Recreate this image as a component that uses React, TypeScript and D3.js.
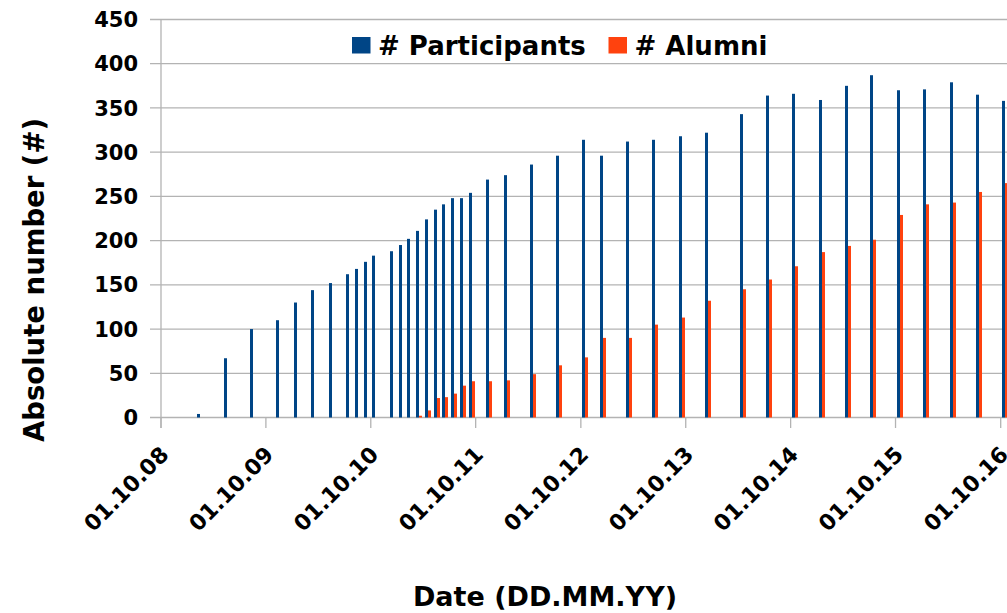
import React from 'react';
import * as d3 from 'd3';

const dates = [
  '2009-02-14', '2009-05-18', '2009-08-17', '2009-11-15', '2010-01-17', '2010-03-17',
  '2010-05-19', '2010-07-17', '2010-08-17', '2010-09-17', '2010-10-15', '2010-12-17',
  '2011-01-17', '2011-02-14', '2011-03-17', '2011-04-18', '2011-05-19', '2011-06-16',
  '2011-07-17', '2011-08-17', '2011-09-17', '2011-11-15', '2012-01-17', '2012-04-16',
  '2012-07-16', '2012-10-15', '2012-12-17', '2013-03-17', '2013-06-16', '2013-09-17',
  '2013-12-17', '2014-04-18', '2014-07-17', '2014-10-15', '2015-01-17', '2015-04-17',
  '2015-07-16', '2015-10-15', '2016-01-14', '2016-04-17', '2016-07-17', '2016-10-15',
];

const participants = [
  4, 67, 100, 110, 130, 144, 152, 162, 168, 176, 183, 188,
  195, 202, 211, 224, 235, 241, 248, 248, 254, 269, 274, 286,
  296, 314, 296, 312, 314, 318, 322, 343, 364, 366, 359, 375,
  387, 370, 371, 379, 365, 358,
];

const alumni = [
  0, 0, 0, 0, 0, 0, 0, 0, 0, 0, 0, 0,
  0, 0, 2, 8, 22, 23, 27, 36, 41, 41, 42, 49,
  59, 68, 90, 90, 105, 113, 132, 145, 156, 171, 187, 194,
  201, 229, 241, 243, 255, 265,
];

const yTicks = [0, 50, 100, 150, 200, 250, 300, 350, 400, 450];
const xTickDates = [
  '2008-10-01', '2009-10-01', '2010-10-01', '2011-10-01', '2012-10-01',
  '2013-10-01', '2014-10-01', '2015-10-01', '2016-10-01',
];
const seriesNames = ['# Participants', '# Alumni'];
const seriesColors = ['#004586', '#ff420e'];

export default function App() {
  const W = 1007;
  const H = 613;
  const parse = d3.utcParse('%Y-%m-%d');
  const fmt = d3.utcFormat('%d.%m.%y');
  const x = d3
    .scaleUtc()
    .domain([parse('2008-10-01') as Date, parse('2016-10-01') as Date])
    .range([161, 1000.7]);
  const y = d3.scaleLinear().domain([0, 450]).range([417.5, 19.5]);
  const font = "'DejaVu Sans', 'Liberation Sans', sans-serif";
  const barW = 3;
  const grid = '#b3b3b3';

  const rows = dates.map((d, i) => ({
    date: parse(d) as Date,
    p: participants[i],
    a: alumni[i],
  }));

  return (
    <svg
      width={W}
      height={H}
      viewBox={`0 0 ${W} ${H}`}
      style={{ position: 'absolute', left: 0, top: 0, background: '#fff' }}
      fontFamily={font}
    >
      <rect x={0} y={0} width={W} height={H} fill="#fff" />
      {/* horizontal gridlines + y ticks */}
      {yTicks.map((t) => (
        <line key={'g' + t} x1={150} x2={W + 5} y1={y(t)} y2={y(t)} stroke={grid} strokeWidth={1.3} />
      ))}
      {/* y axis line */}
      <line x1={161} x2={161} y1={y(450)} y2={428} stroke={grid} strokeWidth={1.3} />
      {/* x ticks */}
      {xTickDates.map((d) => {
        const xx = x(parse(d) as Date);
        return <line key={'xt' + d} x1={xx} x2={xx} y1={y(0)} y2={428} stroke={grid} strokeWidth={1.3} />;
      })}
      {/* bars */}
      {rows.map((r, i) => {
        const cx = Math.round(x(r.date));
        return (
          <g key={'b' + i}>
            <rect x={cx - barW} y={y(r.p)} width={barW} height={y(0) - y(r.p)} fill={seriesColors[0]} />
            {r.a > 0 && (
              <rect x={cx} y={y(r.a)} width={barW} height={y(0) - y(r.a)} fill={seriesColors[1]} />
            )}
          </g>
        );
      })}
      {/* y tick labels */}
      {yTicks.map((t) => (
        <text
          key={'yl' + t}
          x={138}
          y={y(t)}
          dy="0.36em"
          textAnchor="end"
          fontSize={21}
          fontWeight="bold"
          fill="#000"
        >
          {t}
        </text>
      ))}
      {/* x tick labels */}
      {xTickDates.map((d) => {
        const xx = x(parse(d) as Date);
        return (
          <text
            key={'xl' + d}
            transform={`translate(${xx + 9},456) rotate(-45)`}
            textAnchor="end"
            fontSize={22}
            fontWeight="bold"
            fill="#000"
          >
            {fmt(parse(d) as Date)}
          </text>
        );
      })}
      {/* axis titles */}
      <text
        transform="translate(43.5,280) rotate(-90)"
        textAnchor="middle"
        fontSize={27.5}
        fontWeight="bold"
        fill="#000"
      >
        Absolute number (#)
      </text>
      <text x={545} y={606} textAnchor="middle" fontSize={27} fontWeight="bold" fill="#000">
        Date (DD.MM.YY)
      </text>
      {/* legend */}
      <rect x={352} y={37} width={18.5} height={16.5} fill={seriesColors[0]} />
      <text x={378} y={55} fontSize={26} fontWeight="bold" fill="#000">
        {seriesNames[0]}
      </text>
      <rect x={608.5} y={37} width={18.5} height={16.5} fill={seriesColors[1]} />
      <text x={634.5} y={55} fontSize={26} fontWeight="bold" fill="#000">
        {seriesNames[1]}
      </text>
    </svg>
  );
}
